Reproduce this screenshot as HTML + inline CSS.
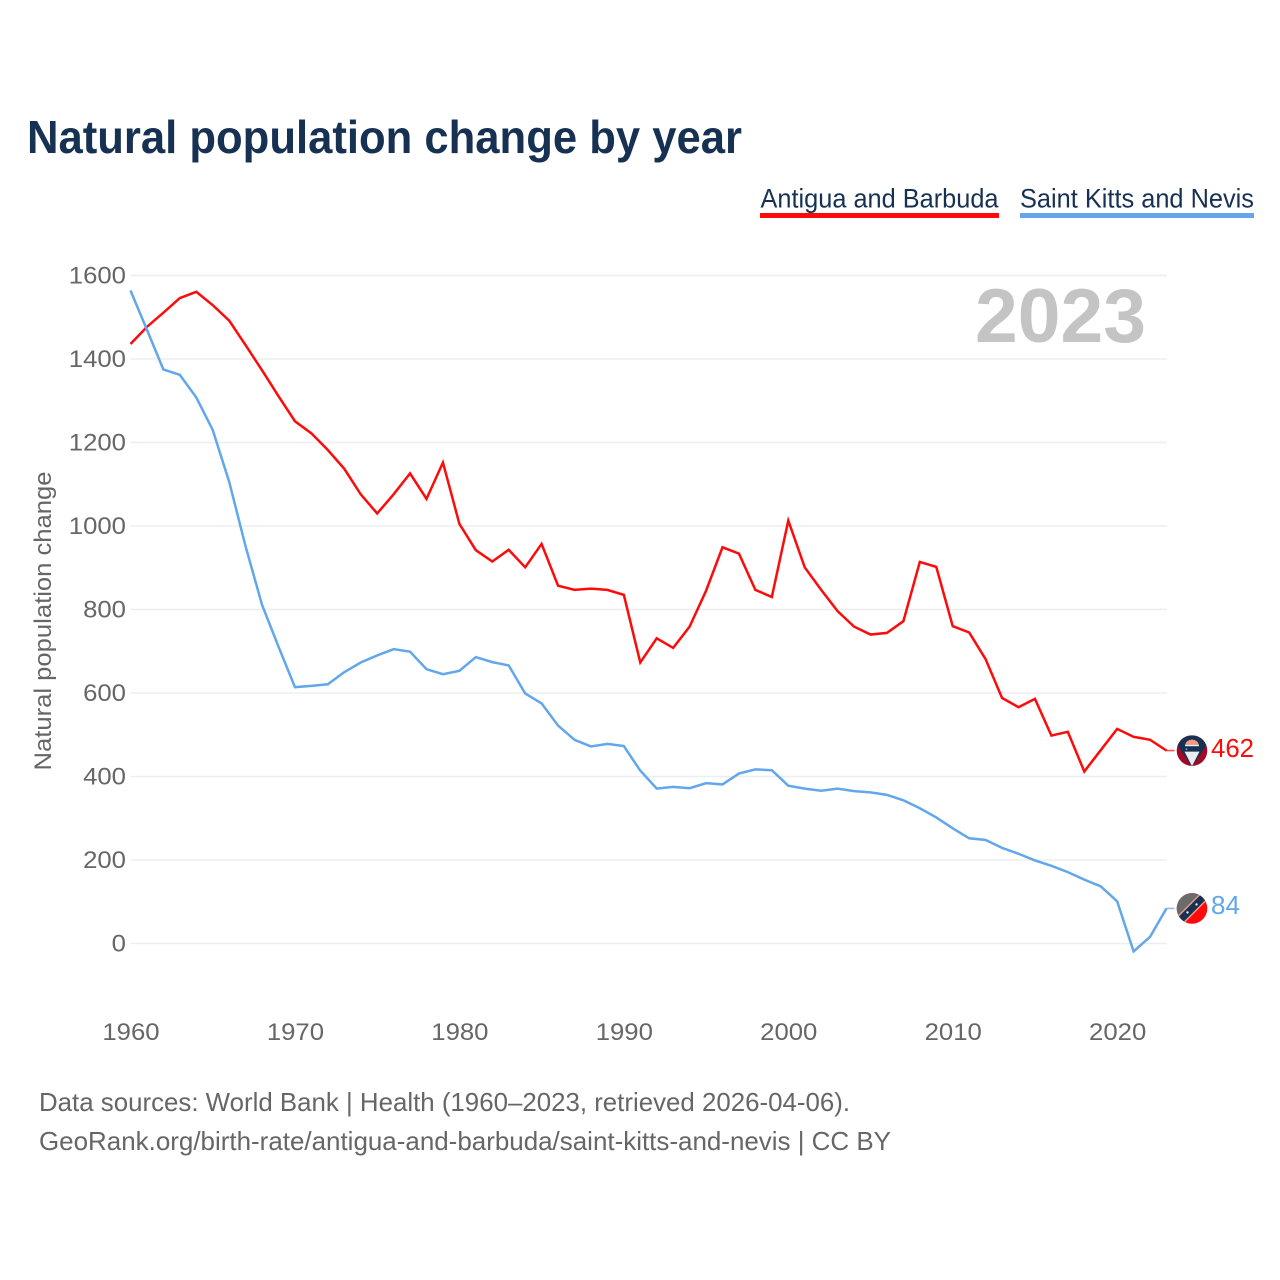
<!DOCTYPE html>
<html lang="en">
<head>
<meta charset="utf-8">
<title>Natural population change by year</title>
<style>
html,body{margin:0;padding:0;background:#fff;width:1280px;height:1280px;overflow:hidden}
svg{display:block}
text{font-family:"Liberation Sans",sans-serif}
</style>
</head>
<body>
<svg id="chart" width="1280" height="1280" viewBox="0 0 1280 1280" xmlns="http://www.w3.org/2000/svg">
  <defs>
    <clipPath id="flag-clip"><circle cx="0" cy="0" r="15.3"/></clipPath>
  </defs>
  <rect x="0" y="0" width="1280" height="1280" fill="#fff"/>
  <text x="27" y="153" font-size="46" font-weight="700" fill="#173152" textLength="715" lengthAdjust="spacingAndGlyphs">Natural population change by year</text>

  <g>
    <text x="760.5" y="207.5" font-size="26.5" fill="#173152" textLength="238" lengthAdjust="spacingAndGlyphs">Antigua and Barbuda</text>
    <rect x="760" y="213" width="239" height="5" fill="#ff0a0a"/>
  </g>
  <g>
    <text x="1020" y="207.5" font-size="26.5" fill="#173152" textLength="234" lengthAdjust="spacingAndGlyphs">Saint Kitts and Nevis</text>
    <rect x="1020" y="213" width="234" height="5" fill="#62a6ec"/>
  </g>

  <g id="grid"></g>
  <g id="y-ticks"></g>
  <g id="x-ticks"></g>

  <text x="1146" y="342" text-anchor="end" font-size="76" font-weight="700" fill="#c4c4c4" textLength="171" lengthAdjust="spacingAndGlyphs">2023</text>

  <text transform="translate(51,621) rotate(-90)" text-anchor="middle" font-size="24.5" fill="#666" textLength="299" lengthAdjust="spacingAndGlyphs">Natural population change</text>

  <g id="series"></g>

  <g id="flag-antigua">
    <g clip-path="url(#flag-clip)">
      <rect x="-16" y="-16" width="32" height="32" fill="#a00a28"/>
      <polygon points="-17,-17 17,-17 17,-9 0,16 -17,-9" fill="#173152"/>
      <polygon points="-7.5,1 7.5,1 0,15.5" fill="#e8edf2"/>
      <rect x="-7" y="-6" width="14" height="1.6" fill="#e8edf2"/>
      <path d="M-6.5,-6 a6.5,5 0 0 1 13,0 z" fill="#f59a7c"/>
      <polygon points="-5,-7 -3.5,-10 -1.5,-9 0,-11.5 1.5,-9 3.5,-10 5,-7" fill="#f59a7c"/>
      <circle cx="-5.5" cy="-1.5" r="0.9" fill="#8ba0b8"/>
    </g>
  </g>
  <g id="flag-kitts">
    <g clip-path="url(#flag-clip)">
      <rect x="-16" y="-16" width="32" height="32" fill="#ff0a0a"/>
      <polygon points="-16,-16 16,-16 -16,16" fill="#6b6b6b"/>
      <polygon points="-18,11 11,-18 18,-11 -11,18" fill="#f39a86"/>
      <polygon points="-18,13 13,-18 18,-13 -13,18" fill="#173152"/>
      <circle cx="-4.5" cy="4" r="1.2" fill="#e8edf2"/>
      <circle cx="4.5" cy="-4" r="1.2" fill="#e8edf2"/>
    </g>
  </g>

  <text id="label-antigua" x="1211" y="757" font-size="25.5" fill="#ff0a0a" textLength="43" lengthAdjust="spacingAndGlyphs"></text>
  <text id="label-kitts" x="1211" y="914" font-size="25.5" fill="#62a6ec" textLength="29" lengthAdjust="spacingAndGlyphs"></text>

  <text x="39" y="1111" font-size="26" fill="#666" textLength="811" lengthAdjust="spacingAndGlyphs">Data sources: World Bank | Health (1960–2023, retrieved 2026-04-06).</text>
  <text x="39" y="1150" font-size="26" fill="#666" textLength="852" lengthAdjust="spacingAndGlyphs">GeoRank.org/birth-rate/antigua-and-barbuda/saint-kitts-and-nevis | CC BY</text>
</svg>
<script>
const startYear = 1960;
const xTickLabels = [1960, 1970, 1980, 1990, 2000, 2010, 2020];
const yTickLabels = [0, 200, 400, 600, 800, 1000, 1200, 1400, 1600];
const antiguaValues = [
  1436, 1477, 1511, 1546, 1561, 1529, 1492, 1433, 1373, 1311,
  1251, 1222, 1182, 1137, 1076, 1030, 1076, 1126, 1065, 1152,
  1005, 942, 915, 943, 901, 957, 857, 847, 850, 847,
  835, 673, 731, 708, 759, 845, 949, 934, 847, 830,
  1013, 901, 847, 796, 759, 740, 744, 772, 914, 902,
  760, 745, 681, 588, 566, 586, 498, 507, 412, 463,
  514, 495, 488, 462
];
const kittsValues = [
  1564, 1470, 1375, 1362, 1308, 1230, 1106, 951, 811, 711,
  614, 617, 621, 650, 673, 690, 705, 699, 657, 645,
  653, 686, 674, 666, 599, 575, 522, 488, 472, 478,
  473, 414, 371, 375, 372, 384, 381, 407, 417, 415,
  378, 371, 366, 371, 365, 362, 356, 343, 324, 302,
  276, 252, 248, 229, 215, 199, 186, 171, 153, 137,
  101, -19, 16, 84
];

const SVG_NS = 'http://www.w3.org/2000/svg';
const plotLeft = 130.5, plotRight = 1166.5, zeroY = 943.5, topY = 275.5, endYear = 2023, maxTick = 1600;
function xScale(year) { return plotLeft + (year - startYear) * (plotRight - plotLeft) / (endYear - startYear); }
function yScale(value) { return zeroY - value * (zeroY - topY) / maxTick; }

const gridGroup = document.getElementById('grid');
const yTickGroup = document.getElementById('y-ticks');
const xTickGroup = document.getElementById('x-ticks');
const seriesGroup = document.getElementById('series');

yTickLabels.forEach(function (tick) {
  const line = document.createElementNS(SVG_NS, 'line');
  
  
  line.setAttribute('x1', plotLeft);
  line.setAttribute('x2', plotRight + 0.5);
  line.setAttribute('y1', yScale(tick));
  line.setAttribute('y2', yScale(tick));
  line.setAttribute('stroke', '#eceef1');
  line.setAttribute('stroke-width', '1.4');
  gridGroup.appendChild(line);

  const label = document.createElementNS(SVG_NS, 'text');
  
  
  label.setAttribute('x', 126);
  label.setAttribute('y', yScale(tick) + 7.8);
  label.setAttribute('text-anchor', 'end');
  label.setAttribute('font-size', '24.5');
  label.setAttribute('fill', '#666');
  label.setAttribute('textLength', String(tick).length * 14.3);
  label.setAttribute('lengthAdjust', 'spacingAndGlyphs');
  label.textContent = tick;
  yTickGroup.appendChild(label);
});

xTickLabels.forEach(function (year) {
  const label = document.createElementNS(SVG_NS, 'text');
  
  
  label.setAttribute('x', xScale(year) + 0.5);
  label.setAttribute('y', 1040);
  label.setAttribute('text-anchor', 'middle');
  label.setAttribute('font-size', '24.5');
  label.setAttribute('fill', '#666');
  label.setAttribute('textLength', String(year).length * 14.3);
  label.setAttribute('lengthAdjust', 'spacingAndGlyphs');
  label.textContent = year;
  xTickGroup.appendChild(label);
});

function drawSeries(values, color, lineName, connectorName) {
  const pts = values.map(function (value, i) {
    return xScale(startYear + i).toFixed(2) + ',' + yScale(value).toFixed(2);
  }).join(' ');
  const line = document.createElementNS(SVG_NS, 'polyline');
  
  
  line.setAttribute('points', pts);
  line.setAttribute('fill', 'none');
  line.setAttribute('stroke', color);
  line.setAttribute('stroke-width', '2.5');
  line.setAttribute('stroke-linejoin', 'miter');
  seriesGroup.appendChild(line);

  const lastY = yScale(values[values.length - 1]);
  const connector = document.createElementNS(SVG_NS, 'line');
  
  
  connector.setAttribute('x1', plotRight);
  connector.setAttribute('x2', plotRight + 8);
  connector.setAttribute('y1', lastY);
  connector.setAttribute('y2', lastY);
  connector.setAttribute('stroke', color);
  connector.setAttribute('stroke-width', '1.5');
  connector.setAttribute('stroke-opacity', '0.75');
  seriesGroup.appendChild(connector);
  return lastY;
}

const antiguaEndY = drawSeries(antiguaValues, '#ff0a0a', 'line-antigua-and-barbuda', 'connector-antigua-and-barbuda');
const kittsEndY = drawSeries(kittsValues, '#62a6ec', 'line-saint-kitts-and-nevis', 'connector-saint-kitts-and-nevis');

document.getElementById('flag-antigua').setAttribute('transform', 'translate(1192,' + antiguaEndY + ')');
document.getElementById('flag-kitts').setAttribute('transform', 'translate(1192,' + kittsEndY + ')');

const antiguaLabel = document.getElementById('label-antigua');
antiguaLabel.textContent = antiguaValues[antiguaValues.length - 1];
antiguaLabel.setAttribute('y', antiguaEndY + 6.5);
const kittsLabel = document.getElementById('label-kitts');
kittsLabel.textContent = kittsValues[kittsValues.length - 1];
kittsLabel.setAttribute('y', kittsEndY + 5.5);
</script>
</body>
</html>
